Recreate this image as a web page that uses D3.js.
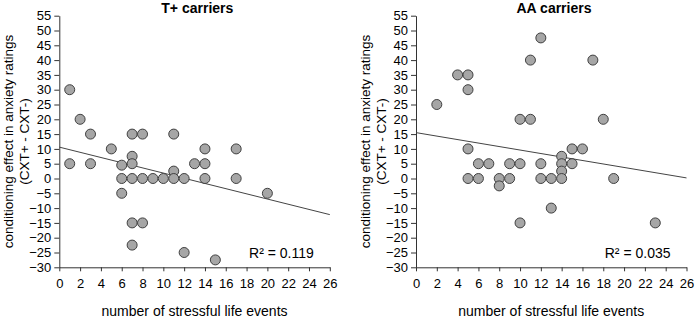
<!DOCTYPE html>
<html>
<head>
<meta charset="utf-8">
<script src="https://cdn.jsdelivr.net/npm/d3@7"></script>
<style>
  body { margin: 0; background: #fff; }
  svg { font-family: "Liberation Sans", Arial, sans-serif; }
</style>
</head>
<body>
<div id="chart"></div>
<script>
// T+ carriers: stressful life events vs conditioning effect
const tPlusX = [1, 2, 3, 5, 7, 8, 11, 14, 17, 7, 1, 3, 6, 7, 11, 13, 14, 6, 7, 8, 9, 10, 11, 12, 14, 17, 6, 20, 7, 8, 7, 12, 15];
const tPlusY = [30, 20, 15, 10, 15, 15, 15, 10, 10, 7.5, 5, 5, 4.5, 5, 2.5, 5, 5, 0, 0, 0, 0, 0, 0, 0, 0, 0, -5, -5, -15, -15, -22.5, -25, -27.5];
// AA carriers
const aaX = [2, 4, 5, 5, 10, 11, 11, 12, 17, 18, 5, 15, 16, 14, 6, 7, 9, 10, 12, 14, 15, 14, 5, 6, 8, 9, 12, 13, 14, 19, 8, 13, 10, 23];
const aaY = [25, 35, 35, 30, 20, 20, 40, 47.5, 40, 20, 10, 10, 10, 7.5, 5, 5, 5, 5, 5, 5, 5, 2.5, 0, 0, 0, 0, 0, 0, 0, 0, -2.5, -10, -15, -15];

// fitted lines: value at x = 0 and x = 26
const trendX = [0, 26];
const tPlusTrend = [10.6, -12.2];
const aaTrend = [15.5, 0.2];

const xTicks = d3.range(0, 27, 2);
const yTicks = d3.range(-30, 56, 5);

const width = 695, height = 318;

const svg = d3.select("#chart").append("svg")
  .attr("width", width)
  .attr("height", height);

function drawPanel(left, title, xs, ys, trend, r2Text) {
  const x = d3.scaleLinear().domain([0, 26]).range([left, left + 270.5]);
  const y = d3.scaleLinear().domain([-30, 55]).range([267.3, 15.7]);

  const g = svg.append("g");

  // y axis
  const yAxis = d3.axisLeft(y).tickValues(yTicks).tickSize(5).tickPadding(3).tickSizeOuter(0);
  const ya = g.append("g").attr("transform", `translate(${x(0)},0)`).call(yAxis);
  ya.selectAll("text").style("font-size", "13px").attr("fill", "#000");

  // x axis
  const xAxis = d3.axisBottom(x).tickValues(xTicks).tickSize(4).tickPadding(7).tickSizeOuter(0);
  const xa = g.append("g").attr("transform", `translate(0,${y(-30)})`).call(xAxis);
  xa.selectAll("text").style("font-size", "13px").attr("fill", "#000");

  g.selectAll(".domain, .tick line").attr("stroke", "#333");

  // trend line
  g.append("line")
    .attr("x1", x(trendX[0])).attr("y1", y(trend[0]))
    .attr("x2", x(trendX[1])).attr("y2", y(trend[1]))
    .attr("stroke", "#444")
    .attr("stroke-width", 1);

  // points
  g.selectAll(".pt")
    .data(xs.map((d, i) => [d, ys[i]]))
    .enter().append("circle")
    .attr("class", "pt")
    .attr("cx", d => x(d[0]))
    .attr("cy", d => y(d[1]))
    .attr("r", 5)
    .attr("fill", "#a6a6a6")
    .attr("stroke", "#404040")
    .attr("stroke-width", 1);

  // title
  g.append("text")
    .attr("x", x(0) + 138).attr("y", 13)
    .attr("text-anchor", "middle")
    .style("font-size", "14px").style("font-weight", "bold")
    .text(title);

  // R² label
  g.append("text")
    .attr("x", x(26) - 16).attr("y", 258)
    .attr("text-anchor", "end")
    .style("font-size", "14px")
    .text(r2Text);

  // x title
  g.append("text")
    .attr("x", x(13)).attr("y", 316)
    .attr("text-anchor", "middle")
    .style("font-size", "14px")
    .text("number of stressful life events");

  // y title (two lines)
  const yt = g.append("text")
    .attr("transform", `translate(${left - 46},${y(12.5)}) rotate(-90)`)
    .attr("text-anchor", "middle")
    .style("font-size", "13.5px");
  yt.append("tspan").attr("x", 0).attr("dy", 0).text("conditioning effect in anxiety ratings");
  yt.append("tspan").attr("x", 0).attr("dy", "1.2em").text("(CXT+ - CXT-)");
}

drawPanel(59.3, "T+ carriers", tPlusX, tPlusY, tPlusTrend, "R² = 0.119");
drawPanel(416, "AA carriers", aaX, aaY, aaTrend, "R² = 0.035");
</script>
</body>
</html>
